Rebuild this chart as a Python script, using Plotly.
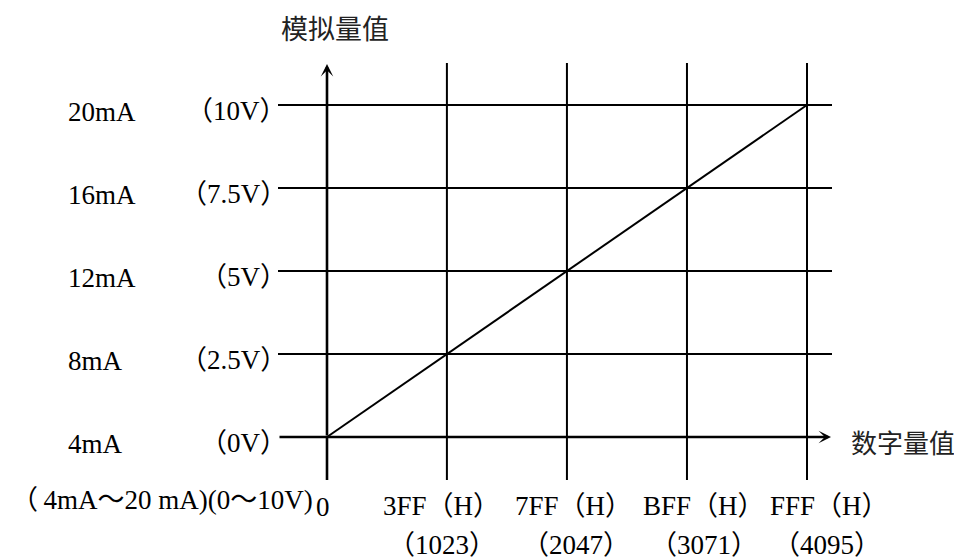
import plotly.graph_objects as go

# ---------------- data ----------------
digital_values = [0, 1023, 2047, 3071, 4095]
hex_labels = ["3FF（H）", "7FF（H）", "BFF（H）", "FFF（H）"]
dec_labels = ["（1023）", "（2047）", "（3071）", "（4095）"]
volt_values = [0, 2.5, 5, 7.5, 10]
volt_labels = ["（0V）", "（2.5V）", "（5V）", "（7.5V）", "（10V）"]
current_labels = ["4mA", "8mA", "12mA", "16mA", "20mA"]
line_x = [0, 4095]
line_y = [0, 10]
y_title = "模拟量值"
x_title = "数字量值"
range_label = "（\u20094mA～20 mA)(0～10V)"
origin_label = "0"

# ---------------- layout geometry (page pixels) ----------------
PAGE_W, PAGE_H = 962, 560
OFF = 8                         # default body margin of the page
W, H = PAGE_W - OFF, PAGE_H - OFF
X0PX, Y0PX = 327, 437           # page pixel position of origin
SX = 480 / max(digital_values)  # px per digital unit
SY = 332 / max(volt_values)     # px per volt

# per-label horizontal nudges (px) for the bottom tick labels
hex_shift = [-5, 7, 17, 22]
dec_shift = [-5, 9, 17, 20]


def dx(px):
    return (px - X0PX) / SX


def dy(py):
    return (Y0PX - py) / SY


SERIF = "Liberation Serif, 'Noto Sans CJK SC', serif"
CJK = "'Noto Sans CJK SC', sans-serif"
FS = 27

fig = go.Figure()

# horizontal grid lines (excluding the x axis)
hx, hy = [], []
for v in volt_values[1:]:
    hx += [dx(278), dx(832), None]
    hy += [v, v, None]
fig.add_trace(go.Scatter(x=hx, y=hy, mode="lines",
                         line=dict(color="black", width=2), hoverinfo="skip"))

# vertical grid lines (excluding the y axis)
vx, vy = [], []
for d in digital_values[1:]:
    vx += [d, d, None]
    vy += [dy(480), dy(63), None]
fig.add_trace(go.Scatter(x=vx, y=vy, mode="lines",
                         line=dict(color="black", width=2), hoverinfo="skip"))

# y axis lower stub
fig.add_trace(go.Scatter(x=[0, 0], y=[dy(480), 0], mode="lines",
                         line=dict(color="black", width=2.6), hoverinfo="skip"))

# diagonal conversion line
fig.add_trace(go.Scatter(x=line_x, y=line_y, mode="lines",
                         line=dict(color="black", width=2), hoverinfo="skip"))

annotations = []
# x axis arrow
annotations.append(dict(x=dx(831), y=0, ax=dx(278), ay=0, xref="x", yref="y",
                        axref="x", ayref="y", text="", showarrow=True,
                        arrowhead=3, arrowsize=0.8, arrowwidth=2.6,
                        arrowcolor="black", standoff=0, startstandoff=0))
# y axis arrow
annotations.append(dict(x=0, y=dy(64), ax=0, ay=0, xref="x", yref="y",
                        axref="x", ayref="y", text="", showarrow=True,
                        arrowhead=3, arrowsize=0.8, arrowwidth=2.6,
                        arrowcolor="black", standoff=0, startstandoff=0))

# current labels (left) and voltage labels
for v, cl, vl in zip(volt_values, current_labels, volt_labels):
    annotations.append(dict(x=(66 - OFF) / W, y=v, xref="paper", yref="y", text=cl,
                            showarrow=False, xanchor="left", yanchor="middle",
                            yshift=-7, font=dict(family=SERIF, size=FS, color="black")))
    annotations.append(dict(x=(289 - OFF) / W, y=v, xref="paper", yref="y", text=vl,
                            showarrow=False, xanchor="right", yanchor="middle",
                            yshift=-6, font=dict(family=SERIF, size=FS, color="black")))

# bottom tick labels
for d, hl, dl, hs, ds in zip(digital_values[1:], hex_labels, dec_labels, hex_shift, dec_shift):
    annotations.append(dict(x=d, y=dy(506), xref="x", yref="y", text=hl,
                            showarrow=False, xanchor="center", yanchor="middle",
                            xshift=hs, font=dict(family=SERIF, size=FS, color="black")))
    annotations.append(dict(x=d, y=dy(545), xref="x", yref="y", text=dl,
                            showarrow=False, xanchor="center", yanchor="middle",
                            xshift=ds, font=dict(family=SERIF, size=FS, color="black")))

annotations.append(dict(x=0, y=dy(507), xref="x", yref="y", text=origin_label,
                        showarrow=False, xanchor="center", yanchor="middle",
                        xshift=-4, font=dict(family=SERIF, size=FS, color="black")))
annotations.append(dict(x=0, y=dy(500), xref="x", yref="y", text=range_label,
                        showarrow=False, xanchor="right", yanchor="middle",
                        xshift=-12, font=dict(family=SERIF, size=FS, color="black")))

# axis titles
annotations.append(dict(x=0, y=dy(27), xref="x", yref="y", text=y_title,
                        showarrow=False, xanchor="center", yanchor="middle",
                        xshift=8, font=dict(family=CJK, size=27, color="#222")))
annotations.append(dict(x=dx(849), y=0, xref="x", yref="y", text=x_title,
                        showarrow=False, xanchor="left", yanchor="middle",
                        yshift=-4, font=dict(family=CJK, size=26, color="#222")))

fig.update_layout(
    width=W, height=H,
    margin=dict(l=0, r=0, t=0, b=0),
    paper_bgcolor="white", plot_bgcolor="white",
    showlegend=False,
    xaxis=dict(visible=False, range=[dx(OFF), dx(PAGE_W)], fixedrange=True),
    yaxis=dict(visible=False, range=[dy(PAGE_H), dy(OFF)], fixedrange=True),
    annotations=annotations,
)

fig.write_html("out.html")
